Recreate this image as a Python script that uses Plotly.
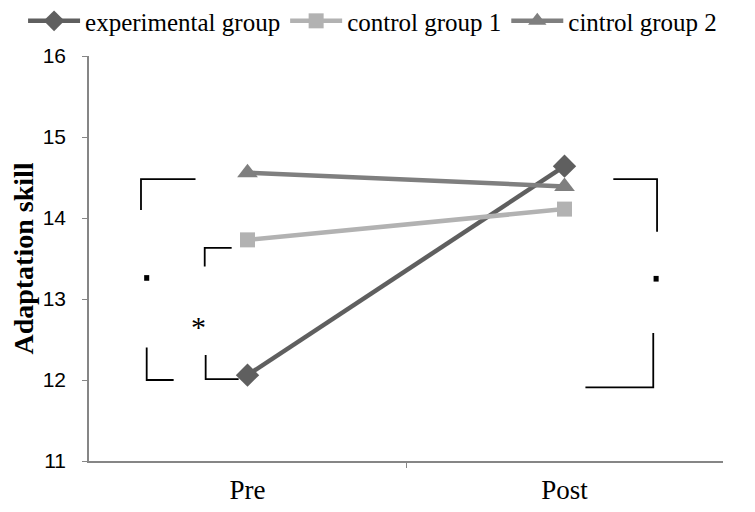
import plotly.graph_objects as go

stages = ["Pre", "Post"]
stage_pos = [0, 1]
experimental = [12.06, 14.64]
control1 = [13.73, 14.11]
control2 = [14.56, 14.39]

series = [
    ("experimental group", experimental, "#5f5f5f", "diamond", 18),
    ("control group 1", control1, "#b2b2b2", "square", 15),
    ("cintrol group 2", control2, "#7f7f7f", "triangle-up", 18),
]

fig = go.Figure()
for name, vals, col, sym, sz in series:
    fig.add_trace(go.Scatter(
        x=stage_pos, y=vals, name=name, mode="lines+markers",
        line=dict(color=col, width=4.5),
        marker=dict(symbol=sym, size=sz, color=col),
    ))

# significance brackets (data coordinates)
brackets = [
    [(-0.336, 14.10), (-0.336, 14.48), (-0.164, 14.48)],
    [(-0.135, 13.40), (-0.135, 13.63), (-0.050, 13.63)],
    [(-0.318, 12.40), (-0.318, 12.00), (-0.233, 12.00)],
    [(-0.132, 12.31), (-0.132, 12.01), (-0.028, 12.01)],
    [(1.154, 14.48), (1.292, 14.48), (1.292, 13.83)],
    [(1.280, 12.58), (1.280, 11.91), (1.066, 11.91)],
]
for pts in brackets:
    path = "M " + " L ".join(f"{x},{y}" for x, y in pts)
    fig.add_shape(type="path", path=path, xref="x", yref="y",
                  line=dict(color="black", width=1.8))

dots = [(-0.318, 13.26), (1.289, 13.25)]
for x, y in dots:
    fig.add_shape(type="rect", xref="x", yref="y",
                  x0=x - 0.008, x1=x + 0.008, y0=y - 0.035, y1=y + 0.035,
                  fillcolor="black", line=dict(width=0))

fig.add_annotation(x=-0.154, y=12.66, text="*", showarrow=False,
                   font=dict(family="Liberation Serif", size=30, color="black"))

# page body has an 8px margin, so the figure is 747x504 and offsets are reduced by 8
fig.update_layout(
    width=747, height=504,
    margin=dict(l=81, r=32, t=48, b=51, autoexpand=False),
    paper_bgcolor="white", plot_bgcolor="white",
    showlegend=True,
    legend=dict(orientation="h", x=-0.104, y=1.143, xanchor="left", yanchor="top",
                font=dict(family="Liberation Serif", size=25, color="black"),
                itemwidth=52, traceorder="normal", bgcolor="rgba(0,0,0,0)"),
    xaxis=dict(range=[-0.5, 1.5], tickmode="array", tickvals=stage_pos, ticktext=stages,
               ticks="", showgrid=False, zeroline=False, automargin=False,
               showline=True, linecolor="#868686", linewidth=1.5,
               ticklabelstandoff=4,
               tickfont=dict(family="Liberation Serif", size=27, color="black"),
               minor=dict(tickmode="array", tickvals=[0.5], ticks="outside",
                          ticklen=5, tickcolor="#868686", tickwidth=1, showgrid=False)),
    yaxis=dict(range=[11, 16], tickmode="array", tickvals=[11, 12, 13, 14, 15, 16],
               ticks="outside", ticklen=5, tickcolor="#868686", tickwidth=1,
               showgrid=False, zeroline=False, automargin=False,
               showline=True, linecolor="#868686", linewidth=1.5,
               ticklabelstandoff=12,
               tickfont=dict(family="Liberation Sans", size=21, color="black"),
               title=dict(text="<b>Adaptation skill</b>", standoff=8,
                          font=dict(family="Liberation Serif", size=28, color="black"))),
)

fig.write_html("out.html")
